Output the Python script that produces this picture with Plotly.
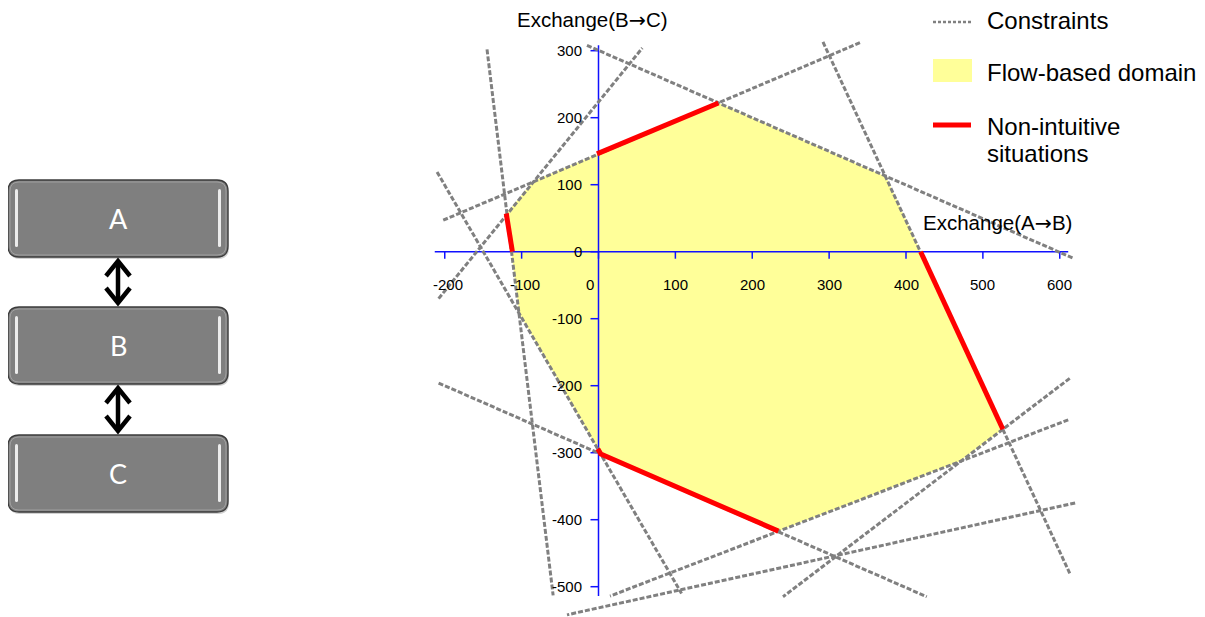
#!/usr/bin/env python3
# -*- coding: utf-8 -*-
"""Flow-based domain between three zones A, B and C"""

import plotly.graph_objects as go

# --- data ---------------------------------------------------------------
# constraint lines: start/end points (exchange A->B, exchange B->C)
con_x0 = [-145, -210, -208, -202, -15, 292, 613, 611, 620, -208]
con_y0 = [302, 119, -70, 47, 308, 313, -189, -251, -375, -196]
con_x1 = [-59, 108, 57, 342, 618, 613, 240, 15, -41, 427]
con_y1 = [-513, -510, 304, 313, -10, -480, -515, -514, -542, -515]

# flow-based domain vertices
dom_x = [-120, -85, 156, 374, 526, 468, 234, 3, -103]
dom_y = [57, 105, 222, 112, -265, -314, -417, -302, -92]

# non-intuitive parts of the border
red_x = [[-120, -112], [-2, 156], [419, 526], [-1, 3, 234]]
red_y = [[57, 0], [146, 222], [0, -265], [-294, -302, -417]]

x_ticks = [-200, -100, 0, 100, 200, 300, 400, 500, 600]
y_ticks = [-500, -400, -300, -200, -100, 0, 100, 200, 300]
x_axis_span = [-213, 611]
y_axis_span = [-514, 308]

zones = ["A", "B", "C"]
legend_labels = ["Constraints", "Flow-based domain", "Non-intuitive", "situations"]
ARROW = '<span style="font-family:DejaVu Sans">→</span>'
x_title = "Exchange(A" + ARROW + "B)"
y_title = "Exchange(B" + ARROW + "C)"

# --- page geometry ------------------------------------------------------
W, H = 1205, 617
OFF = 8                        # the page body margin moves the figure by 8px
X0PX, XSC = 598.5, 0.76875     # pixel of x=0, pixels per unit
Y0PX, YSC = 251.7, 0.67
FONT = "Liberation Sans, Arial, sans-serif"
GREY = "#808080"
DASH = "5px,2px"

fig = go.Figure()

# domain
fig.add_trace(go.Scatter(x=dom_x + dom_x[:1], y=dom_y + dom_y[:1], mode="lines",
                         fill="toself", fillcolor="#ffff99",
                         line=dict(width=0, color="#ffff99"), hoverinfo="skip"))

# axes drawn through the origin
fig.add_trace(go.Scatter(x=x_axis_span, y=[0, 0], mode="lines",
                         line=dict(color="#1010ff", width=1.5), hoverinfo="skip"))
fig.add_trace(go.Scatter(x=[0, 0], y=y_axis_span, mode="lines",
                         line=dict(color="#1010ff", width=1.5), hoverinfo="skip"))
tx, ty = [], []
for v in x_ticks:
    tx += [v, v, None]
    ty += [0, -7 / YSC, None]
for v in y_ticks:
    tx += [0, -8 / XSC, None]
    ty += [v, v, None]
fig.add_trace(go.Scatter(x=tx, y=ty, mode="lines",
                         line=dict(color="#1010ff", width=1.5), hoverinfo="skip"))

# constraints
for i in range(len(con_x0)):
    fig.add_trace(go.Scatter(x=[con_x0[i], con_x1[i]], y=[con_y0[i], con_y1[i]],
                             mode="lines", hoverinfo="skip",
                             line=dict(color=GREY, width=3, dash=DASH)))

# non-intuitive segments
for sx, sy in zip(red_x, red_y):
    fig.add_trace(go.Scatter(x=sx, y=sy, mode="lines", hoverinfo="skip",
                             line=dict(color="#ff0000", width=5)))

annotations = []
for v in x_ticks:
    annotations.append(dict(x=v, y=0, xref="x", yref="y", text=str(v), showarrow=False,
                            yshift=-33, xshift=-9 if v == 0 else (3 if v < 0 else 0),
                            font=dict(family=FONT, size=15, color="black")))
for v in y_ticks:
    annotations.append(dict(x=0, y=v, xref="x", yref="y", text=str(v), showarrow=False,
                            xanchor="right", xshift=-15,
                            font=dict(family=FONT, size=15, color="black")))

# axis titles (pixel overlay)
annotations.append(dict(x=592, y=20, xref="x2", yref="y2", text=y_title, showarrow=False,
                        font=dict(family=FONT, size=20.5, color="black")))
annotations.append(dict(x=921, y=223, xref="x2", yref="y2", text=x_title, showarrow=False,
                        xanchor="left", font=dict(family=FONT, size=20.5, color="black")))

# legend (pixel overlay)
fig.add_trace(go.Scatter(x=[933, 971], y=[22, 22], xaxis="x2", yaxis="y2", mode="lines",
                         line=dict(color=GREY, width=2.4, dash="3px,2px"), hoverinfo="skip"))
fig.add_trace(go.Scatter(x=[933, 971], y=[125, 125], xaxis="x2", yaxis="y2", mode="lines",
                         line=dict(color="#ff0000", width=5), hoverinfo="skip"))
shapes = [dict(type="rect", xref="x2", yref="y2", x0=933, x1=972, y0=59, y1=82,
               fillcolor="#ffff99", line=dict(width=0))]
for label, ly in zip(legend_labels, [20, 72, 126, 153]):
    annotations.append(dict(x=985, y=ly, xref="x2", yref="y2", text=label, showarrow=False,
                            xanchor="left", font=dict(family=FONT, size=24, color="black")))


# zone boxes on the left
def rounded(x0, y0, x1, y1, r):
    return (f"M {x0 + r},{y0} L {x1 - r},{y0} Q {x1},{y0} {x1},{y0 + r} "
            f"L {x1},{y1 - r} Q {x1},{y1} {x1 - r},{y1} L {x0 + r},{y1} "
            f"Q {x0},{y1} {x0},{y1 - r} L {x0},{y0 + r} Q {x0},{y0} {x0 + r},{y0} Z")


box_top = [180, 307, 435]
box_h = 77
bx0, bx1 = 8, 228
cx = (bx0 + bx1) / 2
for name, top in zip(zones, box_top):
    bottom = top + box_h
    shapes.append(dict(type="path", xref="x2", yref="y2",
                       path=rounded(bx0 + 1, top + 2, bx1 + 1, bottom + 2, 11),
                       fillcolor="rgba(0,0,0,0.18)", line=dict(width=0)))
    shapes.append(dict(type="path", xref="x2", yref="y2",
                       path=rounded(bx0, top, bx1, bottom, 11),
                       fillcolor="#7f7f7f", line=dict(color="#3c3c3c", width=1.3)))
    shapes.append(dict(type="path", xref="x2", yref="y2",
                       path=rounded(bx0 + 2, top + 2, bx1 - 2, bottom - 2, 9),
                       fillcolor="rgba(0,0,0,0)", line=dict(color="#a0a0a0", width=1)))
    for sx in (bx0 + 7, bx1 - 10):
        shapes.append(dict(type="path", xref="x2", yref="y2",
                           path=rounded(sx, top + 9, sx + 3, bottom - 10, 1.5),
                           fillcolor="rgba(255,255,255,0.85)", line=dict(width=0)))
    annotations.append(dict(x=cx, y=top + box_h / 2, xref="x2", yref="y2", text=name,
                            showarrow=False,
                            font=dict(family="Lato, Open Sans, sans-serif", size=27,
                                      color="white")))

# double arrows between the boxes
for i in range(len(box_top) - 1):
    y_a = box_top[i] + box_h + 2
    y_b = box_top[i + 1] - 2
    shapes.append(dict(type="line", xref="x2", yref="y2", x0=cx, x1=cx, y0=y_a + 2, y1=y_b - 2,
                       line=dict(color="black", width=4.5)))
    shapes.append(dict(type="path", xref="x2", yref="y2",
                       path=f"M {cx - 12},{y_a + 17} L {cx},{y_a + 2} L {cx + 12},{y_a + 17}",
                       line=dict(color="black", width=4.5)))
    shapes.append(dict(type="path", xref="x2", yref="y2",
                       path=f"M {cx - 12},{y_b - 17} L {cx},{y_b - 2} L {cx + 12},{y_b - 17}",
                       line=dict(color="black", width=4.5)))

# figure pixel 0 sits at page pixel OFF
FW, FH = W - OFF, H - OFF
fig.update_layout(
    width=FW, height=FH,
    margin=dict(l=0, r=0, t=0, b=0),
    paper_bgcolor="white", plot_bgcolor="white",
    showlegend=False,
    xaxis=dict(range=[(OFF - X0PX) / XSC, (W - X0PX) / XSC], visible=False, fixedrange=True),
    yaxis=dict(range=[(Y0PX - H) / YSC, (Y0PX - OFF) / YSC], visible=False, fixedrange=True),
    xaxis2=dict(range=[OFF, W], overlaying="x", visible=False, fixedrange=True),
    yaxis2=dict(range=[H, OFF], overlaying="y", visible=False, fixedrange=True),
    shapes=shapes,
    annotations=annotations,
)

fig.write_html("out.html")
